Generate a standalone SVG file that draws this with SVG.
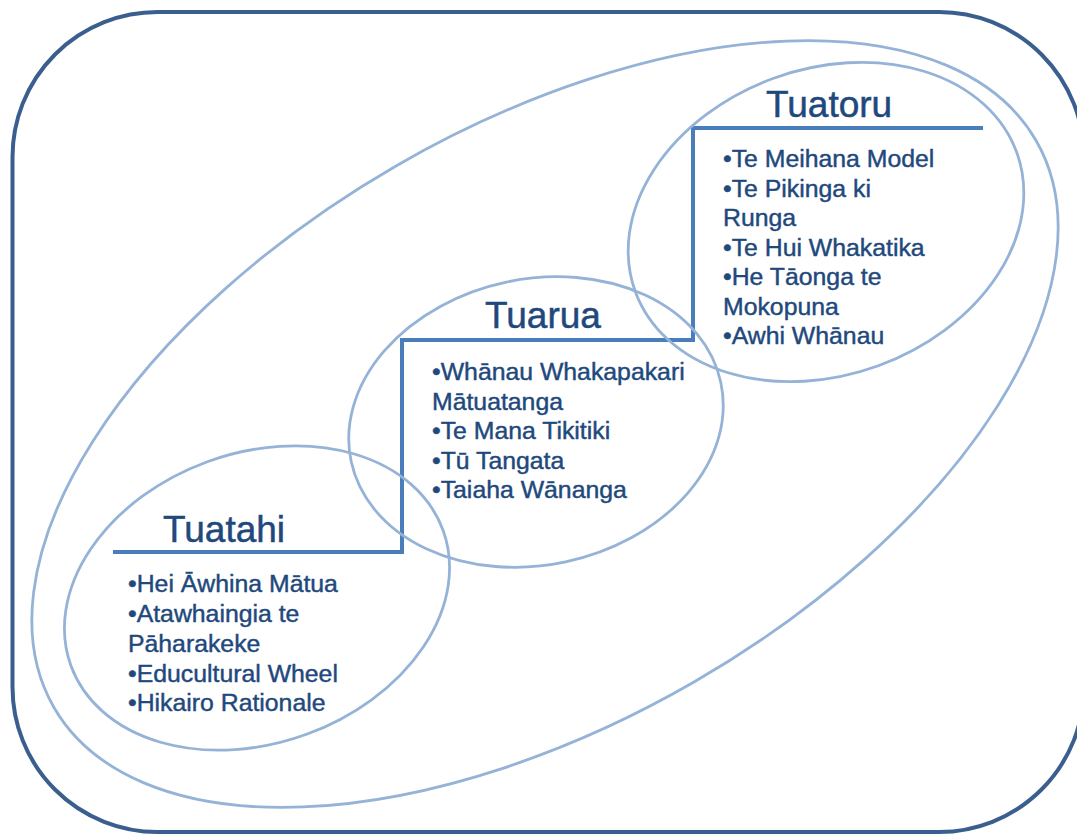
<svg xmlns="http://www.w3.org/2000/svg" width="1077" height="834" viewBox="0 0 1077 834">
<style>
.frame{fill:none;stroke:#3A5F8E;stroke-width:4}
.ell{fill:none;stroke:#95B3D7;stroke-width:2.8}
.step{fill:none;stroke:#4A7EBB;stroke-width:4}
.title{font-family:"Liberation Sans",Arial,sans-serif;font-size:37px;fill:#1F497D;stroke:#1F497D;stroke-width:0.5}
.item{font-family:"Liberation Sans",Arial,sans-serif;font-size:24.8px;fill:#1F497D;stroke:#1F497D;stroke-width:0.45}
</style>
<rect width="1077" height="834" fill="#FFFFFF"/>
<rect id="frame" class="frame" x="12.5" y="12" width="1071.5" height="820" rx="145" ry="145"/>
<g id="outer-ellipse">
<ellipse class="ell" cx="545" cy="424" rx="567" ry="298" transform="rotate(-30 545 424)"/>
</g>
<g id="connectors">
<path class="step" d="M113,552 H402 V340 H693 V128 H983"/>
</g>
<g id="tuatahi">
<ellipse class="ell" cx="257" cy="598" rx="198" ry="145" transform="rotate(-20 257 598)"/>
<text class="title" x="163" y="542">Tuatahi</text>
<text class="item" x="128" y="592">•Hei Āwhina Mātua</text>
<text class="item" x="128" y="622">•Atawhaingia te</text>
<text class="item" x="128" y="652">Pāharakeke</text>
<text class="item" x="128" y="682">•Educultural Wheel</text>
<text class="item" x="128" y="711">•Hikairo Rationale</text>
</g>
<g id="tuarua">
<ellipse class="ell" cx="536" cy="422" rx="189" ry="143" transform="rotate(-12 536 422)"/>
<text class="title" x="485" y="328">Tuarua</text>
<text class="item" x="432" y="380">•Whānau Whakapakari</text>
<text class="item" x="432" y="409.5">Mātuatanga</text>
<text class="item" x="432" y="439">•Te Mana Tikitiki</text>
<text class="item" x="432" y="468.5">•Tū Tangata</text>
<text class="item" x="432" y="498">•Taiaha Wānanga</text>
</g>
<g id="tuatoru">
<ellipse class="ell" cx="826" cy="222" rx="203" ry="153" transform="rotate(-20 826 222)"/>
<text class="title" x="766" y="117">Tuatoru</text>
<text class="item" x="723" y="167">•Te Meihana Model</text>
<text class="item" x="723" y="196.5">•Te Pikinga ki</text>
<text class="item" x="723" y="226">Runga</text>
<text class="item" x="723" y="255.5">•Te Hui Whakatika</text>
<text class="item" x="723" y="285">•He Tāonga te</text>
<text class="item" x="723" y="314.5">Mokopuna</text>
<text class="item" x="723" y="344">•Awhi Whānau</text>
</g>
</svg>
